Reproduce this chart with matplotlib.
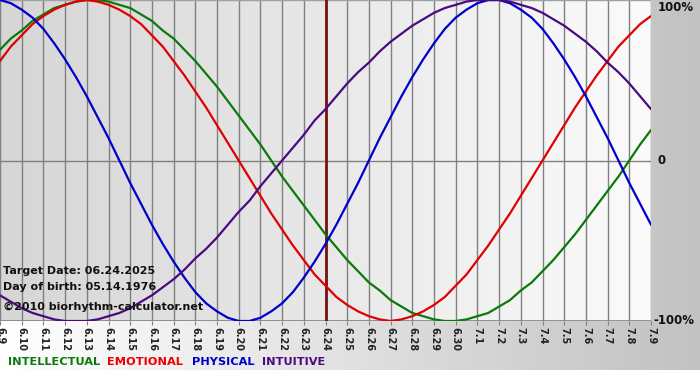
import numpy as np
import matplotlib
matplotlib.use("Agg")
import matplotlib.pyplot as plt
from matplotlib.colors import LinearSegmentedColormap

# dates shown on the x axis (6.9 .. 7.9)
dates = ["6.9"] + [f"6.{d}" for d in range(10, 31)] + [f"7.{d}" for d in range(1, 10)]
target_idx = 15  # 6.24

# cycle values in percent, every half day from 6.9 to 7.9
physical = [100, 98, 94, 89, 82, 73, 63, 52, 40, 27, 14, 0, -14, -27, -40, -52, -63,
            -73, -82, -89, -94, -98, -100, -100, -98, -94, -89, -82, -73, -63, -52,
            -40, -27, -14, 0, 14, 27, 40, 52, 63, 73, 82, 89, 94, 98, 100, 100, 98,
            94, 89, 82, 73, 63, 52, 40, 27, 14, 0, -14, -27, -40]
emotional = [62, 71, 78, 85, 90, 94, 97, 99, 100, 99, 97, 94, 90, 85, 78, 71, 62, 53,
             43, 33, 22, 11, 0, -11, -22, -33, -43, -53, -62, -71, -78, -85, -90, -94,
             -97, -99, -100, -99, -97, -94, -90, -85, -78, -71, -62, -53, -43, -33,
             -22, -11, 0, 11, 22, 33, 43, 53, 62, 71, 78, 85, 90]
intellectual = [69, 76, 81, 87, 91, 95, 97, 99, 100, 100, 99, 97, 95, 91, 87, 81, 76,
                69, 62, 54, 46, 37, 28, 19, 10, 0, -10, -19, -28, -37, -46, -54, -62,
                -69, -76, -81, -87, -91, -95, -97, -99, -100, -100, -99, -97, -95,
                -91, -87, -81, -76, -69, -62, -54, -46, -37, -28, -19, -10, 0, 10, 19]
intuitive = [-84, -88, -92, -95, -97, -99, -100, -100, -100, -99, -97, -95, -92, -88,
             -84, -79, -74, -68, -61, -55, -48, -40, -32, -25, -16, -8, 0, 8, 16, 25,
             32, 40, 48, 55, 61, 68, 74, 79, 84, 88, 92, 95, 97, 99, 100, 100, 100, 99,
             97, 95, 92, 88, 84, 79, 74, 68, 61, 55, 48, 40, 32]

series = [("INTELLECTUAL", intellectual, "#0a7a0a", "#0a7a0a"),
          ("EMOTIONAL", emotional, "#e00000", "#ee0000"),
          ("PHYSICAL", physical, "#0000cc", "#0000cc"),
          ("INTUITIVE", intuitive, "#4b0a80", "#4b0a80")]

W, H = 700, 380
fig = plt.figure(figsize=(W / 100, H / 100), dpi=100)

# whole-figure background: white -> gray from left to right, white strip at bottom
bg = fig.add_axes([0, 0, 1, 1])
bg.set_axis_off()
bg_cmap = LinearSegmentedColormap.from_list("bg", ["#ffffff", "#c2c2c2"])
bg.imshow(np.linspace(0, 1, 256)[None, :], aspect="auto", cmap=bg_cmap,
          extent=[0, 1, 10 / H, 1], transform=bg.transAxes)
bg.set_xlim(0, 1)
bg.set_ylim(0, 1)

# plot area
pw, ph = 651, 321
ax = fig.add_axes([0, 1 - ph / H, pw / W, ph / H])
x = np.arange(len(dates))
ax.set_xlim(0, len(dates) - 1)
ax.set_ylim(-100, 100)
pa_cmap = LinearSegmentedColormap.from_list("pa", ["#d6d6d6", "#fbfbfb"])
ax.imshow(np.linspace(0, 1, 256)[None, :], aspect="auto", cmap=pa_cmap,
          extent=[0, 1, 0, 1], transform=ax.transAxes, zorder=0)

for xi in x:
    ax.axvline(xi, color="#808080", lw=1, zorder=1)
ax.axhline(0, color="#808080", lw=1, zorder=1)
ax.axhline(-100, color="#808080", lw=1.2, zorder=1)
ax.axhline(100, color="#a0a0a0", lw=1, zorder=1)
ax.axvline(target_idx, color="#7a1010", lw=2, zorder=2)

half_days = np.arange(len(physical)) / 2
for name, vals, c, _ in series:
    ax.plot(half_days, vals, color=c, lw=1.6, zorder=3, solid_capstyle="round")

for s in ax.spines.values():
    s.set_visible(False)
ax.set_xticks(x)
ax.set_xticklabels(dates, rotation=-90, fontsize=7, fontweight="bold", color="#222222")
ax.tick_params(axis="x", length=3, pad=1, color="#808080")
ax.set_yticks([])

# right side labels
for val, lab, off, va in [(100, "100%", 5, "top"), (0, "0", 5, "center"),
                          (-100, "-100%", 1.5, "center")]:
    ax.annotate(lab, xy=(1, val), xycoords=("axes fraction", "data"),
                xytext=(off, -1 if va == "top" else 0), textcoords="offset points",
                ha="left", va=va, fontsize=8.5, fontweight="bold", color="#111111",
                annotation_clip=False)

# info text
info = ["Target Date: 06.24.2025", "Day of birth: 05.14.1976",
        "\u00a92010 biorhythm-calculator.net"]
for txt, ty in zip(info, [271, 287, 307]):
    fig.text(3 / W, 1 - ty / H, txt, fontsize=8, fontweight="bold", va="center",
             color="#111111")

# legend row
leg_x = [8, 107, 192, 262]
for (name, _, _, tc), lx in zip(series, leg_x):
    fig.text(lx / W, 1 - 362 / H, name, fontsize=8.2, fontweight="bold", va="center",
             color=tc)

fig.savefig("out.png", dpi=100)
